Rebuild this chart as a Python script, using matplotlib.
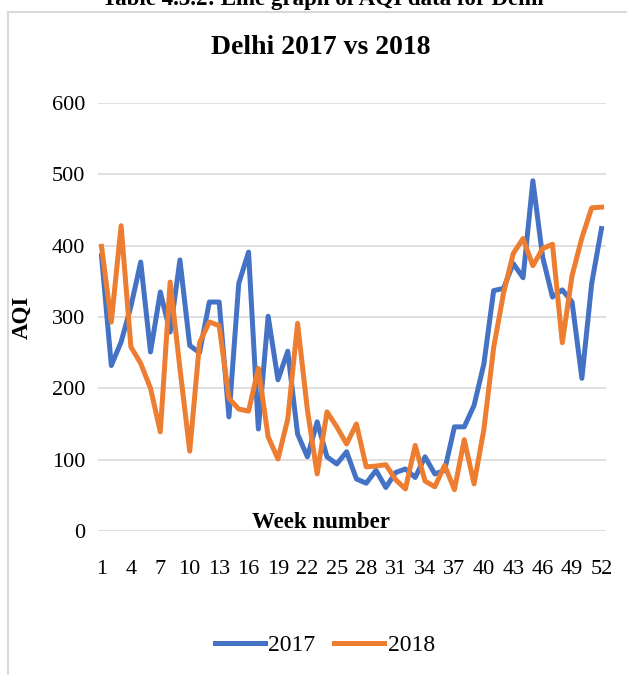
import numpy as np
import matplotlib
matplotlib.use('Agg')
from matplotlib import pyplot as plt
from matplotlib.patches import Rectangle
from matplotlib.lines import Line2D

# dane AQI, tygodnie 1..52
weeks = list(range(1, 53))
aqi_2017 = [386, 232, 265, 315, 377, 251, 335, 279, 380, 260,
            250, 321, 321, 160, 347, 391, 143, 301, 212, 252,
            136, 104, 153, 104, 94, 111, 73, 67, 85, 61,
            82, 87, 75, 104, 80, 85, 146, 146, 176, 234,
            337, 340, 375, 355, 491, 384, 328, 338, 321, 214,
            347, 424]
aqi_2018 = [399, 293, 428, 258, 235, 200, 139, 349, 228, 112,
            264, 293, 288, 186, 171, 168, 228, 132, 101, 157,
            291, 170, 80, 167, 146, 122, 150, 90, 91, 93,
            72, 59, 120, 70, 62, 92, 58, 128, 66, 142,
            257, 333, 389, 410, 372, 396, 402, 264, 358, 411,
            453, 454]
xticks = list(range(1, 53, 3))
yticks = [0, 100, 200, 300, 400, 500, 600]

c17 = '#4472C4'
c18 = '#ED7D31'
font = 'Liberation Serif'

fig = plt.figure(figsize=(6.27, 6.75), dpi=100)
W, H = 627, 675

# ramka wykresu
fig.patches.append(Rectangle((8 / W, -0.1), 1.2, 1 - 11.5 / H + 0.1,
                             transform=fig.transFigure, fill=False,
                             edgecolor='#D9D9D9', linewidth=1.5))

ax = fig.add_axes([98 / W, 1 - 531 / H, (606 - 98) / W, (531 - 103) / H])
ax.plot(weeks, aqi_2017, color=c17, lw=3.6, solid_joinstyle='round')
ax.plot(weeks, aqi_2018, color=c18, lw=3.6, solid_joinstyle='round')
ax.set_xlim(0.643, 52.46)
ax.set_ylim(0, 600)
ax.set_yticks(yticks)
ax.set_xticks(xticks)
ax.grid(axis='y', color='#D9D9D9', lw=1.2)
ax.set_axisbelow(True)
for s in ax.spines.values():
    s.set_visible(False)
ax.tick_params(length=0)
ax.tick_params(axis='y', pad=9)
ax.tick_params(axis='x', pad=21)
for lab in ax.get_xticklabels() + ax.get_yticklabels():
    lab.set_fontfamily(font)
    lab.set_fontsize(16)

# tytuly (podpis tabeli u gory jest uciety jak w oryginale)
fig.text(323 / W, 1 - 5 / H, 'Table 4.3.2: Line graph of AQI data for Delhi',
         ha='center', va='baseline', fontsize=16.5, fontweight='bold', family=font)
fig.text(321 / W, 1 - 47 / H, 'Delhi 2017 vs 2018', ha='center', va='center',
         fontsize=20, fontweight='bold', family=font)
fig.text(321 / W, 1 - 523 / H, 'Week number', ha='center', va='center',
         fontsize=16.5, fontweight='bold', family=font)
fig.text(22 / W, 1 - 317 / H, 'AQI', ha='center', va='center', rotation=90,
         fontsize=16.5, fontweight='bold', family=font)

handles = [Line2D([], [], color=c17, lw=3.6), Line2D([], [], color=c18, lw=3.6)]
fig.legend(handles, ['2017', '2018'], loc='center', ncol=2, frameon=False,
           bbox_to_anchor=(325 / W, 1 - 645 / H), handlelength=2.1,
           handletextpad=0.15, columnspacing=0.8,
           prop={'family': font, 'size': 17})

fig.savefig('out.png', dpi=100)
